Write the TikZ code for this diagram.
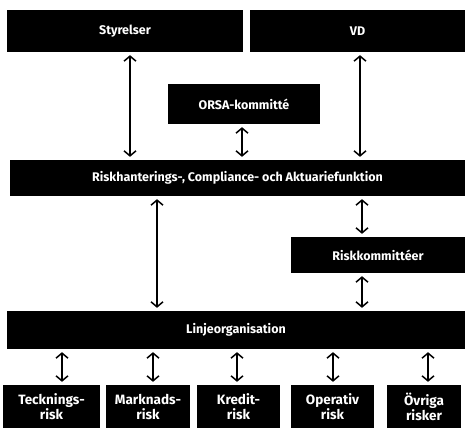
\documentclass[tikz,border=0pt]{standalone}
\usepackage{fontspec}
\setmainfont{Fira Sans}
\usetikzlibrary{arrows.meta}
\tikzset{
  box/.style={fill=black,text=white,font=\bfseries\fontsize{12.5}{14}\selectfont,inner sep=0pt,anchor=center},
  riskbox/.style={box,font=\bfseries\fontsize{13.5}{15}\selectfont,align=center},
  link/.style={line width=1.5pt,{Straight Barb[length=5pt,width=12pt]}-{Straight Barb[length=5pt,width=12pt]},shorten <=3pt,shorten >=3pt}
}
\begin{document}
\begin{tikzpicture}[x=1pt,y=-1pt]
\useasboundingbox (0,0) rectangle (465,430);
%\draw[step=10,gray,very thin] (0,0) grid (465,430);
% top row
\node[box,minimum width=236pt,minimum height=42pt] (styr) at (125,31) {Styrelser};
\node[box,minimum width=215pt,minimum height=42pt] (vd) at (357.5,31) {VD};
\node[box,minimum width=152pt,minimum height=40pt] (orsa) at (244,104) {ORSA-kommitté};
% middle
\node[box,minimum width=455pt,minimum height=36pt] (func) at (237.5,178) {Riskhanterings-, Compliance- och Aktuariefunktion};
\node[box,minimum width=174pt,minimum height=36pt] (rkom) at (378,255) {Riskkommittéer};
\node[box,minimum width=458pt,minimum height=38pt] (linje) at (236,330) {Linjeorganisation};
% risks
\node[riskbox,minimum width=97pt,minimum height=43pt] (teck) at (51.5,406.5) {Tecknings-\\risk};
\node[riskbox,minimum width=84pt,minimum height=43pt] (mark) at (148,406.5) {Marknads-\\risk};
\node[riskbox,minimum width=83pt,minimum height=43pt] (kred) at (238.5,406.5) {Kredit-\\risk};
\node[riskbox,minimum width=83pt,minimum height=43pt] (oper) at (332.5,406.5) {Operativ\\risk};
\node[riskbox,minimum width=74pt,minimum height=43pt] (ovr) at (424,406.5) {Övriga\\risker};
% connectors
\draw[link] (styr.south -| 130,0) -- (func.north -| 130,0);
\draw[link] (vd.south -| 360,0) -- (func.north -| 360,0);
\draw[link] (orsa.south -| 242,0) -- (func.north -| 242,0);
\draw[link] (func.south -| 157,0) -- (linje.north -| 157,0);
\draw[link] (func.south -| 362,0) -- (rkom.north -| 362,0);
\draw[link] (rkom.south -| 362,0) -- (linje.north -| 362,0);
\draw[link] (linje.south -| 62,0) -- (teck.north -| 62,0);
\draw[link] (linje.south -| 153,0) -- (mark.north -| 153,0);
\draw[link] (linje.south -| 237,0) -- (kred.north -| 237,0);
\draw[link] (linje.south -| 333,0) -- (oper.north -| 333,0);
\draw[link] (linje.south -| 428,0) -- (ovr.north -| 428,0);
\end{tikzpicture}
\end{document}
